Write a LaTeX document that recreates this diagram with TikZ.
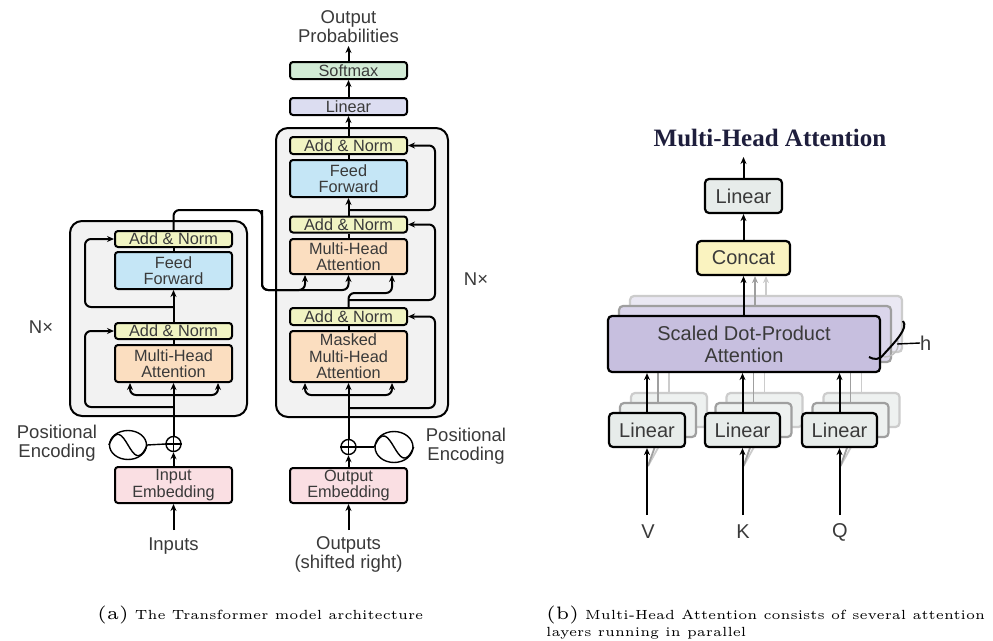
\documentclass[tikz,border=0pt]{standalone}
\usepackage{fontspec}
\usetikzlibrary{arrows.meta,shapes.geometric}
\newfontfamily\hv{Liberation Sans}
\newfontfamily\tms{Liberation Serif}
\definecolor{txtc}{HTML}{3A3A3A}
\definecolor{anC}{HTML}{F1F4C3}
\definecolor{ffC}{HTML}{C5E6F6}
\definecolor{mhC}{HTML}{FBDEC0}
\definecolor{emC}{HTML}{FADFE3}
\definecolor{smC}{HTML}{D2EBD6}
\definecolor{lnC}{HTML}{DCDDF1}
\definecolor{bgC}{HTML}{F2F2F2}
\definecolor{rlC}{HTML}{E7ECEA}
\definecolor{ccC}{HTML}{FAF3C0}
\definecolor{sdC}{HTML}{C7BFDF}
\definecolor{sdBC}{HTML}{DAD5EB}
\definecolor{sdCC}{HTML}{EAE8F3}
\definecolor{rlBC}{HTML}{EEF1F0}
\definecolor{titC}{HTML}{1E1E3C}
\begin{document}
\begin{tikzpicture}[x=1pt,y=-1pt,
  box/.style={draw=black, line width=2pt, rounded corners=3pt, minimum width=117pt, inner sep=0pt, align=center, text=txtc, font=\hv\fontsize{16.3}{16.5}\selectfont},
  lbl/.style={text=txtc, align=center, inner sep=0pt, font=\hv\fontsize{18.5}{19}\selectfont},
  conn/.style={line width=2pt, rounded corners=6pt},
  arrw/.style={-{Stealth[length=7pt,width=6pt]}},
  rbox/.style={draw=black, line width=2.2pt, rounded corners=4pt, inner sep=0pt, text=txtc, font=\hv\fontsize{20}{22}\selectfont, align=center},
  pe/.style={draw, ellipse, line width=1.4pt, inner sep=0pt},
  plus/.style={draw, circle, line width=1.4pt, minimum size=15pt, inner sep=0pt},
  shadeA/.style={line width=1.8pt, draw=gray!75},
  shadeB/.style={line width=1.8pt, draw=gray!40}
]
\useasboundingbox (0,0) rectangle (993,640);
\fill[white] (0,0) rectangle (993,640);

% ---------------- Encoder ----------------
\node[draw, line width=2pt, rounded corners=12pt, fill=bgC, minimum width=177pt, minimum height=195pt, inner sep=0pt] (encBox) at (158.5,318.5) {};
\node[box, fill=anC, minimum height=16pt] (eAN2) at (173.5,239) {Add \& Norm};
\node[box, fill=ffC, minimum height=37pt] (eFF) at (173.5,270.5) {Feed\\Forward};
\node[box, fill=anC, minimum height=16pt] (eAN1) at (173.5,331) {Add \& Norm};
\node[box, fill=mhC, minimum height=37pt] (eMHA) at (173.5,363.5) {Multi-Head\\Attention};
\node[box, fill=emC, minimum height=36pt] (eEmb) at (173.5,485) {Input\\Embedding};
\node[plus] (ePlus) at (173.5,444) {};
\draw[line width=1.2pt] (ePlus.north) -- (ePlus.south) (ePlus.west) -- (ePlus.east);
\node[pe, minimum width=37pt, minimum height=29pt] (ePE) at (128,445) {};
\draw[line width=1.4pt] (ePE.west) .. controls +(8,-18) and +(-6,-10) .. (ePE.center) .. controls +(6,10) and +(-8,18) .. (ePE.east);
\draw[line width=1.4pt] (ePE.east) -- (ePlus.west);
\node[lbl] (ePEt) at (57,443.5) {Positional\\Encoding};
\node[lbl] (inTxt) at (173.5,546) {Inputs};
\node[lbl] (eNx) at (41,327) {N×};

\coordinate (eIn) at (173.5,530);
\draw[conn,arrw] (eIn) -- (eEmb.south);
\draw[conn,arrw] (eEmb.north) -- (ePlus.south);
\draw[conn,arrw] (ePlus.north) -- (eMHA.south);
\coordinate (eb) at (173.5,395);
\draw[conn,arrw] (eb) -| ([xshift=-43.5pt]eMHA.south);
\draw[conn,arrw] (eb) -| ([xshift=44.5pt]eMHA.south);
\coordinate (er1) at (173.5,407);
\coordinate (eL1) at (85,370);
\draw[conn,arrw] (er1) -| (eL1) |- (eAN1.west);
\draw[conn] (eMHA.north) -- (eAN1.south);
\draw[conn,arrw] (eAN1.north) -- (eFF.south);
\coordinate (er2) at (173.5,307);
\coordinate (eL2) at (85,270);
\draw[conn,arrw] (er2) -| (eL2) |- (eAN2.west);
\draw[conn] (eFF.north) -- (eAN2.south);

% ---------------- Decoder ----------------
\node[draw, line width=2pt, rounded corners=12pt, fill=bgC, minimum width=172pt, minimum height=289pt, inner sep=0pt] (decBox) at (362,272.5) {};
\node[box, fill=smC, minimum height=17pt] (dSoft) at (348.5,70.5) {Softmax};
\node[box, fill=lnC, minimum height=17pt] (dLin) at (348.5,106.5) {Linear};
\node[box, fill=anC, minimum height=17pt] (dAN3) at (348.5,145.5) {Add \& Norm};
\node[box, fill=ffC, minimum height=37pt] (dFF) at (348.5,178.5) {Feed\\Forward};
\node[box, fill=anC, minimum height=16pt] (dAN2) at (348.5,224.5) {Add \& Norm};
\node[box, fill=mhC, minimum height=35pt] (dMHA) at (348.5,256.5) {Multi-Head\\Attention};
\node[box, fill=anC, minimum height=17pt] (dAN1) at (348.5,316.5) {Add \& Norm};
\node[box, fill=mhC, minimum height=51pt] (dMM) at (348.5,356.5) {Masked\\Multi-Head\\Attention};
\node[box, fill=emC, minimum height=35pt] (dEmb) at (348.5,485.5) {Output\\Embedding};
\node[plus] (dPlus) at (348.5,447) {};
\draw[line width=1.2pt] (dPlus.north) -- (dPlus.south) (dPlus.west) -- (dPlus.east);
\node[pe, minimum width=38pt, minimum height=31pt] (dPE) at (394,447) {};
\draw[line width=1.4pt] (dPE.west) .. controls +(8,-19) and +(-6,-10) .. (dPE.center) .. controls +(6,10) and +(-8,19) .. (dPE.east);
\draw[line width=1.4pt] (dPlus.east) -- (dPE.west);
\node[lbl] (dPEt) at (466,446) {Positional\\Encoding};
\node[lbl] (outTxt) at (348.5,554) {Outputs\\(shifted right)};
\node[lbl] (probTxt) at (348.5,26.5) {Output\\Probabilities};
\node[lbl] (dNx) at (476,279) {N×};

\coordinate (dIn) at (348.5,530);
\draw[conn,arrw] (dIn) -- (dEmb.south);
\draw[conn,arrw] (dEmb.north) -- (dPlus.south);
\draw[conn,arrw] (dPlus.north) -- (dMM.south);
\coordinate (db) at (348.5,395);
\draw[conn,arrw] (db) -| ([xshift=-43.5pt]dMM.south);
\draw[conn,arrw] (db) -| ([xshift=43.5pt]dMM.south);
\coordinate (dr1) at (348.5,408);
\coordinate (dR1) at (435,360);
\draw[conn,arrw] (dr1) -| (dR1) |- (dAN1.east);
\draw[conn] (dMM.north) -- (dAN1.south);
% encoder output to decoder attention
\coordinate (eo1) at (262,210);
\coordinate (eo2) at (348.5,290);
\coordinate (eo3) at (305,290);
\draw[conn,arrw] (eAN2.north) |- (eo1) |- (eo2) -- (dMHA.south);
\draw[conn,arrw] (eo1) |- (eo3) -- ([xshift=-43.5pt]dMHA.south);
\coordinate (dq) at (392,293);
\draw[conn,arrw] (dAN1.north) |- (dq) -- ([xshift=43.5pt]dMHA.south);
\coordinate (dr2) at (348.5,300);
\coordinate (dR2) at (435,260);
\draw[conn,arrw] (dr2) -| (dR2) |- (dAN2.east);
\draw[conn] (dMHA.north) -- (dAN2.south);
\draw[conn,arrw] (dAN2.north) -- (dFF.south);
\coordinate (dr3) at (348.5,210);
\coordinate (dR3) at (435,180);
\draw[conn,arrw] (dr3) -| (dR3) |- (dAN3.east);
\draw[conn] (dFF.north) -- (dAN3.south);
\draw[conn,arrw] (dAN3.north) -- (dLin.south);
\draw[conn,arrw] (dLin.north) -- (dSoft.south);
\coordinate (dOut) at (348.5,46);
\draw[conn,arrw] (dSoft.north) -- (dOut);

% ---------------- Multi-Head Attention ----------------
\node[font=\tms\bfseries\fontsize{25}{28}\selectfont, text=titC, inner sep=0pt] (title) at (770,138) {Multi-Head Attention};
\node[rbox, fill=rlC, minimum width=77pt, minimum height=34pt] (mLin) at (743.5,196) {Linear};
\coordinate (mOut) at (743.5,157);
\draw[conn,arrw] (mLin.north) -- (mOut);
\node[rbox, fill=ccC, minimum width=93pt, minimum height=34pt] (cc) at (743.5,258) {Concat};
\draw[conn,arrw] (cc.north) -- (mLin.south);

% back layer C
\node[rbox, draw=gray!40, fill=sdCC, minimum width=272pt, minimum height=56pt] (sdc) at (766,324) {};
\foreach \cx/\nm in {647/v,742.5/k,839.5/q}{
  \node[rbox, draw=gray!40, fill=rlBC, minimum width=76pt, minimum height=34pt] (\nm3) at (\cx+22,410) {};
  \coordinate (\nm s) at (\cx+1,466);
  \draw[shadeB] (\nm s) -- (\nm3.south);
  \draw[shadeB] (\nm3.north) -- (\nm3.north |- sdc.south);
}
% back layer B
\node[rbox, draw=gray!75, fill=sdBC, minimum width=272pt, minimum height=56pt] (sdb) at (755,334) {};
\foreach \cx/\nm in {647/v,742.5/k,839.5/q}{
  \node[rbox, draw=gray!75, fill=rlBC, minimum width=76pt, minimum height=34pt] (\nm2) at (\cx+11,420) {};
  \draw[shadeA] (\nm s) -- (\nm2.south);
  \draw[shadeA] (\nm2.north) -- (\nm2.north |- sdb.south);
}
% front layer
\node[rbox, fill=sdC, minimum width=272pt, minimum height=56pt] (sd) at (744,344) {Scaled Dot-Product\\Attention};
\node[rbox, fill=rlC, minimum width=76pt, minimum height=34pt] (v1) at (647,430) {Linear};
\node[rbox, fill=rlC, minimum width=75pt, minimum height=34pt] (k1) at (742.5,430) {Linear};
\node[rbox, fill=rlC, minimum width=75pt, minimum height=34pt] (q1) at (839.5,430) {Linear};
\draw[conn,arrw,draw=gray!40] (sdc.north) -- (sdc.north |- cc.south);
\draw[conn,arrw,draw=gray!75] (sdb.north) -- (sdb.north |- cc.south);
\draw[conn,arrw] (cc.south |- sd.north) -- (cc.south);
\foreach \nm in {v,k,q}{
  \draw[conn,arrw] (\nm1.north) -- (\nm1.north |- sd.south);
}
\node[lbl, font=\hv\fontsize{20}{22}\selectfont] (V) at (648,532) {V};
\node[lbl, font=\hv\fontsize{20}{22}\selectfont] (K) at (743,532) {K};
\node[lbl, font=\hv\fontsize{20}{22}\selectfont] (Q) at (840,532) {Q};
\coordinate (vIn) at (647,515);
\coordinate (kIn) at (742.5,515);
\coordinate (qIn) at (839.5,515);
\draw[conn,arrw] (vIn) -- (v1.south);
\draw[conn,arrw] (kIn) -- (k1.south);
\draw[conn,arrw] (qIn) -- (q1.south);
% h bracket
\draw[line width=1.4pt, draw=gray!50] (897,338) .. controls (901,349) and (894,357) .. (884,357);
\draw[line width=2pt] (903,321) .. controls (909,328) and (894,343) .. (884,354) .. controls (880,360) and (874,360) .. (869,357);
\coordinate (hL) at (897,344);
\node[lbl, font=\hv\fontsize{20}{22}\selectfont, anchor=west] (hT) at (920,343) {h};
\draw[line width=1.4pt] (hL) -- (hT.west);

% ---------------- Captions ----------------
\node[anchor=base west, inner sep=0pt] (capA) at (97,619) {\scalebox{3.6}{\fontsize{5}{6}\selectfont(a)}\hspace{6pt}\scalebox{2.65}{\fontsize{5}{6}\selectfont The Transformer model architecture}};
\node[anchor=base west, inner sep=0pt] (capB) at (546,619) {\scalebox{3.6}{\fontsize{5}{6}\selectfont(b)}\hspace{6pt}\scalebox{2.65}{\fontsize{5}{6}\selectfont Multi-Head Attention consists of several attention}};
\node[anchor=base west, inner sep=0pt] (capB2) at (546,636) {\scalebox{2.65}{\fontsize{5}{6}\selectfont layers running in parallel}};
\end{tikzpicture}
\end{document}
